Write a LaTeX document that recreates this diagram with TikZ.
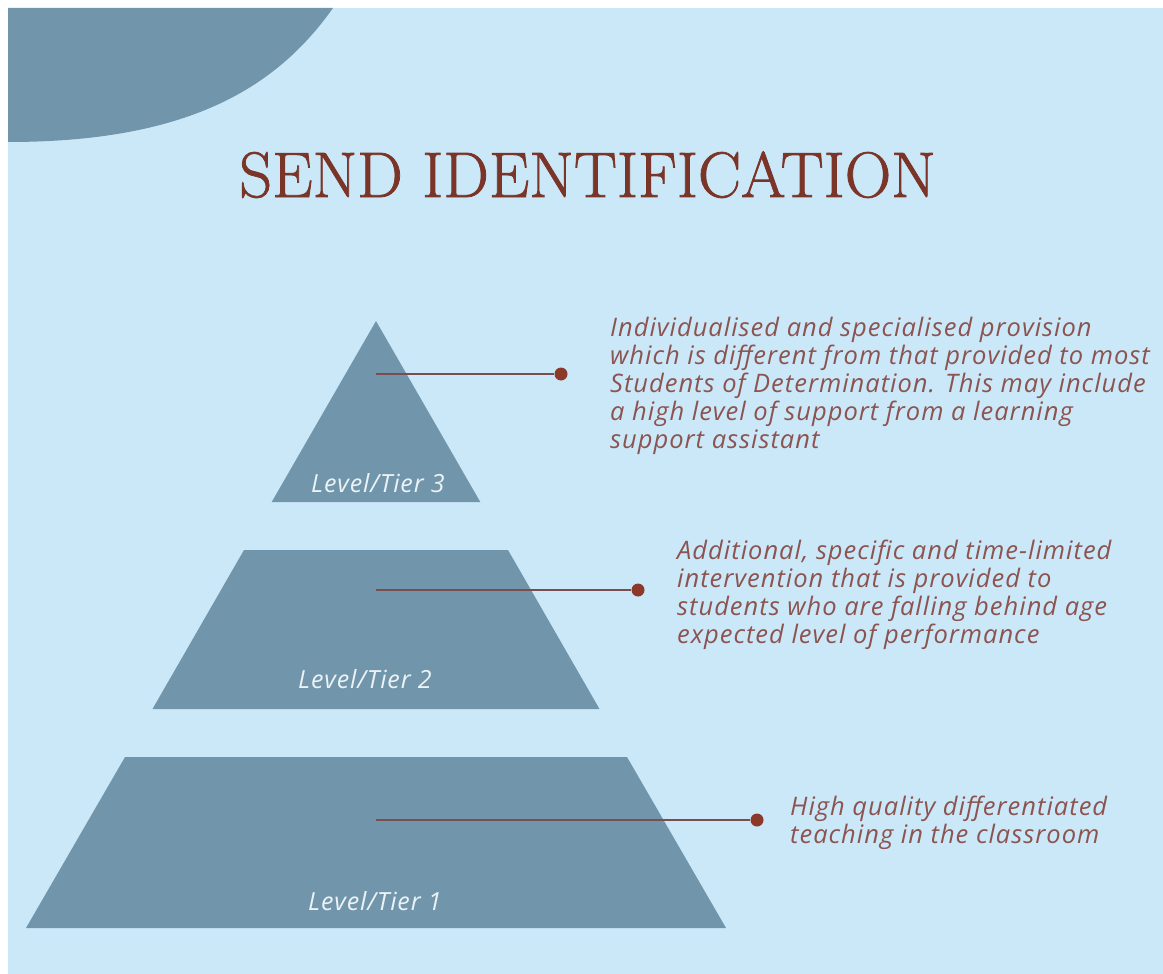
\documentclass[tikz,border=0pt]{standalone}
\usepackage{fontspec}
\newfontfamily\descfont[LetterSpace=3.9]{Open Sans}
\newfontfamily\labelfont[LetterSpace=3.5]{Open Sans}
\newfontfamily\titlefont[FakeBold=1.2]{Latin Modern Roman}
\definecolor{bgblue}{RGB}{203,232,249}
\definecolor{slate}{RGB}{113,150,171}
\definecolor{titlered}{RGB}{122,52,40}
\definecolor{descred}{RGB}{140,84,80}
\definecolor{dotred}{RGB}{139,58,42}
\definecolor{linered}{RGB}{120,78,80}
\definecolor{labelwhite}{RGB}{236,243,247}
\tikzset{
  tierbox/.style={fill=slate, draw=none},
  tierlabel/.style={font=\labelfont\itshape\fontsize{25}{28}\selectfont, text=labelwhite, anchor=base, inner sep=0pt},
  desc/.style={font=\descfont\itshape\fontsize{25.5}{28}\selectfont, text=descred, align=left, anchor=north west, inner sep=0pt},
  dotnode/.style={circle, fill=dotred, minimum size=13pt, inner sep=0pt},
  hub/.style={inner sep=0pt, minimum size=0pt},
  leader/.style={draw=linered, line width=2pt}
}
\begin{document}
\begin{tikzpicture}[x=1pt,y=-1pt]
\useasboundingbox (0,0) rectangle (1163,974);
\fill[white] (0,0) rectangle (1163,974);
\fill[bgblue] (8,8) rectangle (1163,974);
% corner blob
\fill[slate] (8,8) -- (333,8) .. controls (275,90) and (185,142) .. (8,142) -- cycle;
% title
\node[anchor=base, inner sep=0pt, text=titlered, font=\titlefont\fontsize{64.4}{65}\selectfont] (title) at (587.5,197) {SEND IDENTIFICATION};
% pyramid tiers (slices of one triangle, apex (376,321), half-width slope 0.5765)
\fill[tierbox] (376,321) -- (480.3,502) -- (271.7,502) -- cycle;
\fill[tierbox] (508,550) -- (599.5,709) -- (152.5,709) -- (244,550) -- cycle;
\fill[tierbox] (627,757) -- (726,928) -- (26,928) -- (125,757) -- cycle;
% labels
\node[tierlabel] (l3) at (378,492) {Level/Tier 3};
\node[tierlabel] (l2) at (365,688) {Level/Tier 2};
\node[tierlabel] (l1) at (375,910) {Level/Tier 1};
% hubs and dots
\node[hub] (h3) at (376,374) {};
\node[hub] (h2) at (376,590) {};
\node[hub] (h1) at (376,820) {};
\node[dotnode] (d3) at (561,374) {};
\node[dotnode] (d2) at (638,590) {};
\node[dotnode] (d1) at (757,820) {};
\draw[leader] (h3) -- (d3);
\draw[leader] (h2) -- (d2);
\draw[leader] (h1) -- (d1);
% descriptions
\node[desc] (t3) at (610,316.5) {Individualised and specialised provision\\which is different from that provided to most\\Students of Determination. This may include\\a high level of support from a learning\\support assistant};
\node[desc] (t2) at (677,539.5) {Additional, specific and time-limited\\intervention that is provided to\\students who are falling behind age\\expected level of performance};
\node[desc] (t1) at (790,795.5) {High quality differentiated\\teaching in the classroom};
\end{tikzpicture}
\end{document}
